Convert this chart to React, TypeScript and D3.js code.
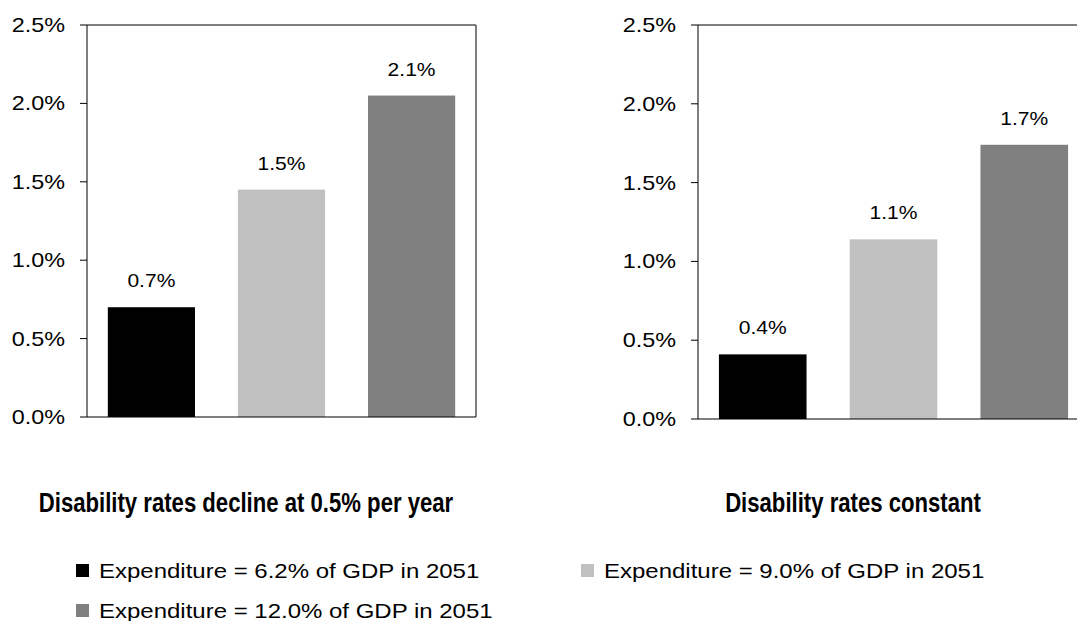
import React from "react";
import * as d3 from "d3";

const categories = ["6.2%", "9.0%", "12.0%"];
const declineValues = [0.0070, 0.0145, 0.0205];
const constantValues = [0.0041, 0.0114, 0.0174];
const declineLabels = ["0.7%", "1.5%", "2.1%"];
const constantLabels = ["0.4%", "1.1%", "1.7%"];
const yTicks = [0, 0.005, 0.01, 0.015, 0.02, 0.025];
const colors = ["#000000", "#c0c0c0", "#808080"];
const legendLabels = [
  "Expenditure = 6.2% of GDP in 2051",
  "Expenditure = 9.0% of GDP in 2051",
  "Expenditure = 12.0% of GDP in 2051",
];
const panelTitles = ["Disability rates decline at 0.5% per year", "Disability rates constant"];

const W = 1077;
const H = 621;
const FONT = "'Liberation Sans', Arial, sans-serif";
const SX = 1.17;

type PanelProps = {
  values: number[];
  labels: string[];
  left: number;
  right: number;
  top: number;
  bottom: number;
  title: string;
  titleX: number;
  rightBorder: boolean;
};

function Panel({ values, labels, left, right, top, bottom, title, titleX, rightBorder }: PanelProps) {
  const x = d3.scaleBand<string>().domain(categories).range([left, right]).paddingInner(0.33).paddingOuter(0.16);
  const y = d3.scaleLinear().domain([0, 0.025]).range([bottom, top]);
  const fmt = d3.format(".1%");
  return (
    <g>
      {values.map((v, i) => (
        <rect key={i} x={x(categories[i])} y={y(v)} width={x.bandwidth()} height={y(0) - y(v)} fill={colors[i]} />
      ))}
      <line x1={left} x2={right} y1={top} y2={top} stroke="#000" strokeWidth={1} />
      {rightBorder && <line x1={right} x2={right} y1={top} y2={bottom} stroke="#555" strokeWidth={1.5} />}
      <line x1={left} x2={left} y1={top} y2={bottom} stroke="#000" strokeWidth={1} />
      <line x1={left} x2={right} y1={bottom} y2={bottom} stroke="#000" strokeWidth={1.2} />
      {yTicks.map((t) => (
        <g key={t}>
          <line x1={left - 7} x2={left} y1={y(t)} y2={y(t)} stroke="#000" />
          <text
            transform={`translate(${left - 22},${y(t) + 7}) scale(${SX},1)`}
            textAnchor="end"
            fontFamily={FONT}
            fontSize={20}
            fill="#000"
          >
            {fmt(t)}
          </text>
        </g>
      ))}
      {values.map((v, i) => (
        <text
          key={i}
          transform={`translate(${(x(categories[i]) as number) + x.bandwidth() / 2},${y(v) - 20}) scale(${SX},1)`}
          textAnchor="middle"
          fontFamily={FONT}
          fontSize={18}
          fill="#000"
        >
          {labels[i]}
        </text>
      ))}
      <text
        transform={`translate(${titleX},${512}) scale(0.82,1)`}
        textAnchor="middle"
        fontFamily={FONT}
        fontWeight="bold"
        fontSize={27}
        fill="#000"
      >
        {title}
      </text>
    </g>
  );
}

export default function App() {
  const legendPos = [
    { x: 76, y: 571 },
    { x: 581, y: 571 },
    { x: 76, y: 611 },
  ];
  return (
    <svg width={W} height={H} style={{ position: "absolute", left: 0, top: 0, background: "#fff" }}>
      <rect width={W} height={H} fill="#fff" />
      <Panel
        values={declineValues}
        labels={declineLabels}
        left={87}
        right={476}
        top={25}
        bottom={417}
        title={panelTitles[0]}
        titleX={246}
        rightBorder={true}
      />
      <Panel
        values={constantValues}
        labels={constantLabels}
        left={698}
        right={1089}
        top={25}
        bottom={419}
        title={panelTitles[1]}
        titleX={853}
        rightBorder={false}
      />
      {legendLabels.map((l, i) => (
        <g key={i}>
          <rect x={legendPos[i].x} y={legendPos[i].y - 7} width={13} height={13} fill={colors[i]} />
          <text
            transform={`translate(${legendPos[i].x + 23},${legendPos[i].y + 7}) scale(1.2,1)`}
            fontFamily={FONT}
            fontSize={20}
            fill="#000"
          >
            {l}
          </text>
        </g>
      ))}
    </svg>
  );
}
